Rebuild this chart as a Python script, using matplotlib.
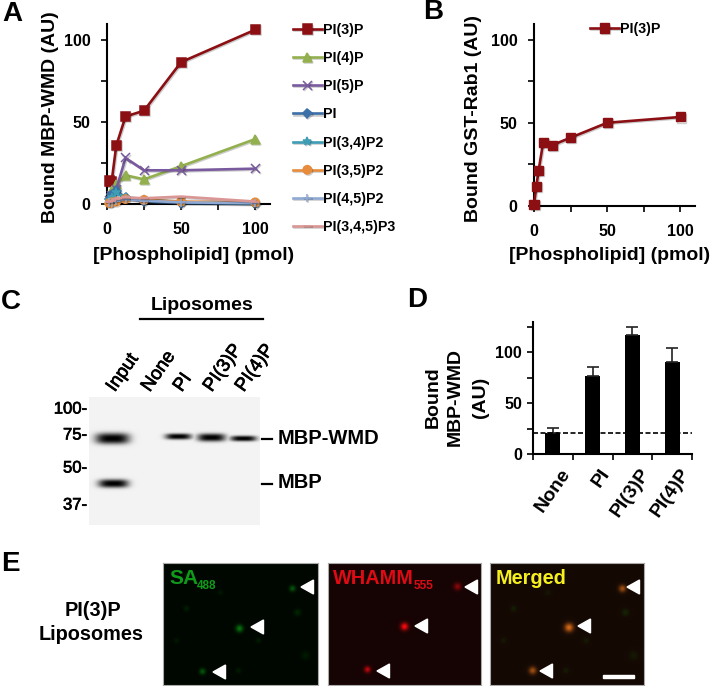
import numpy as np
import matplotlib
matplotlib.use('Agg')
import matplotlib.pyplot as plt
import matplotlib.patheffects as pe
from matplotlib.patches import Polygon, Rectangle
from matplotlib.transforms import ScaledTranslation

W, H = 713, 686
plt.rcParams['font.family'] = ['Liberation Sans', 'DejaVu Sans']
plt.rcParams['font.weight'] = 'bold'

# panel A
dose_a = [1.56, 3.12, 6.25, 12.5, 25, 50, 100]
pi3p_a = [14, 13.6, 35.5, 53.2, 56.8, 86.3, 106]
pi4p_a = [3, 8, 12, 17.5, 15, 23, 39.5]
pi5p_a = [2, 5, 9, 28, 20.5, 20.5, 21.5]
pi_a = [3, 6, 8, 4, 1.5, 0.5, 0]
pi34_a = [2, 4, 7, 4, 3, 1, 0.5]
pi35_a = [0.5, 1, 1.5, 3, 2.5, 1.5, 1]
pi45_a = [1, 1, 2, 3, 2, 1, 0.5]
pi345_a = [1, 2, 3, 4, 3.5, 4.5, 1.5]

series_a = [
    ('PI(3)P', pi3p_a, '#8c0f14', 's', 6.5),
    ('PI(4)P', pi4p_a, '#93b04e', '^', 6.5),
    ('PI(5)P', pi5p_a, '#7a5a9e', 'x', 6.5),
    ('PI', pi_a, '#3d6fa8', 'D', 4.5),
    ('PI(3,4)P2', pi34_a, '#3f9db5', '*', 6),
    ('PI(3,5)P2', pi35_a, '#e68c3c', 'o', 6),
    ('PI(4,5)P2', pi45_a, '#8fa9d3', '+', 6),
    ('PI(3,4,5)P3', pi345_a, '#d99694', '_', 6),
]

# panel B
dose_b = [0, 1.56, 3.12, 6.25, 12.5, 25, 50, 100]
pi3p_b = [0.5, 11.5, 21, 38, 36.5, 41, 50, 53.5]

# panel D
cats_d = ['None', 'PI', 'PI(3)P', 'PI(4)P']
vals_d = [21, 77, 117, 91]
errs_d = [5, 9, 8, 13]

# panel C blot: centre x, centre y, half width, half height, in image pixels
bands = [
    (112, 438, 17, 5.5), (113, 483, 15, 4.2),
    (178, 436, 13, 3.0), (211, 437, 14, 4.0), (243, 438, 13, 2.8),
]
mw_labels = [('100-', 409), ('75-', 435), ('50-', 468), ('37-', 505)]
lanes = [('Input', 111), ('None', 146), ('PI', 178), ('PI(3)P', 208), ('PI(4)P', 240)]

# panel E: x, y, size, strength of the spots in page pixels
bright_1 = [(292, 588, 2.2, .4), (239, 628, 2.6, .55), (202, 671, 2.2, .4)]
bright_2 = [(457, 586, 2.5, .45), (404, 626, 2.6, .9), (367, 669, 2.2, .65)]
bright_3 = [(621, 588, 2.5, .6), (568, 627, 3, .85), (532, 670, 2.6, .6)]
dim_1 = [(186, 608, 2, .12), (258, 640, 2, .1), (297, 612, 2.5, .15), (238, 670, 2, .1),
         (305, 655, 3, .1), (187, 575, 2, .15), (220, 592, 2, .08), (176, 640, 2, .08)]
arrows_1 = [(301, 587), (251, 627), (213, 672)]
arrows_2 = [(465, 587), (415, 626), (377, 671)]
arrows_3 = [(627, 587), (578, 626), (540, 671)]


def px_axes(fig, left, top, right, bottom):
    return fig.add_axes([left / W, 1 - bottom / H, (right - left) / W, (bottom - top) / H])


def txt(fig, x, y, s, **kw):
    kw.setdefault('ha', 'center')
    kw.setdefault('va', 'center')
    return fig.text(x / W, 1 - y / H, s, **kw)


def style_axes(ax, size=11.5):
    ax.spines['top'].set_visible(False)
    ax.spines['right'].set_visible(False)
    ax.spines['left'].set_linewidth(1.5)
    ax.spines['bottom'].set_linewidth(1.5)
    ax.tick_params(width=1.2, length=4, labelsize=size)
    ax.patch.set_alpha(0)


def curve_axes(ax):
    style_axes(ax)
    ax.set_xlim(0, 110)
    ax.set_xticks([0, 25, 50, 75, 100], ['0', '', '50', '', '100'])
    ax.set_yticks([0, 25, 50, 75, 100], ['0', '', '50', '', '100'])
    ax.tick_params(axis='x', pad=9)
    ax.tick_params(axis='y', pad=8)


shadow = [pe.SimpleLineShadow(offset=(0.8, -0.8), alpha=0.2, shadow_color='k'), pe.Normal()]
medium = [pe.withStroke(linewidth=0.5, foreground='k')]

fig = plt.figure(figsize=(W / 100, H / 100), dpi=100)

# A
ax = px_axes(fig, 107, 24, 270, 204)
curve_axes(ax)
ax.set_ylim(0, 109.5)
for name, vals, col, mk, ms in series_a:
    ax.plot(dose_a, vals, color=col, marker=mk, ms=ms, lw=1.9, mew=1.1, label=name,
            clip_on=False, path_effects=shadow, zorder=3)
ax.legend(loc='upper left', bbox_to_anchor=(293 / W, 1 - 23 / H), bbox_transform=fig.transFigure,
          frameon=False, fontsize=10.3, labelspacing=0.99, handlelength=2.0, handletextpad=0.1,
          borderpad=0, borderaxespad=0)
txt(fig, 51, 117, 'Bound MBP-WMD (AU)', rotation=90, fontsize=14)
txt(fig, 194, 255, '[Phospholipid] (pmol)', fontsize=14)
txt(fig, 12, 14, 'A', fontsize=20)

# B
ax = px_axes(fig, 534, 24, 695, 205.5)
curve_axes(ax)
ax.set_ylim(0, 109.7)
ax.plot(dose_b, pi3p_b, color='#8c0f14', marker='s', ms=6.5, lw=1.9, label='PI(3)P',
        clip_on=False, path_effects=shadow, zorder=3)
ax.legend(loc='upper left', bbox_to_anchor=(590 / W, 1 - 22 / H), bbox_transform=fig.transFigure,
          frameon=False, fontsize=10.3, handlelength=2.0, handletextpad=0.1, borderpad=0, borderaxespad=0)
txt(fig, 473, 118, 'Bound GST-Rab1 (AU)', rotation=90, fontsize=14)
txt(fig, 610, 255, '[Phospholipid] (pmol)', fontsize=14)
txt(fig, 433, 12, 'B', fontsize=20)

# C
ax = px_axes(fig, 89, 397, 260, 525)
yy, xx = np.mgrid[397:525, 89:260]
gel = np.zeros(xx.shape)
for cx, cy, hw, hh in bands:
    gel = np.maximum(gel, np.exp(-(np.abs((xx - cx) / hw) ** 3.5 + np.abs((yy - cy) / hh) ** 2.5)))
ax.imshow(0.95 - 0.95 * gel, cmap='gray', vmin=0, vmax=1, aspect='auto', extent=(89, 260, 525, 397))
ax.axis('off')
fig.add_artist(plt.Line2D([140 / W, 263 / W], [1 - 319 / H] * 2, color='k', lw=1.6))
txt(fig, 202, 305, 'Liposomes', fontsize=14)
for name, x in lanes:
    fig.text(x / W, 1 - 390 / H, name, rotation=55, rotation_mode='anchor', ha='left', va='center',
             fontsize=13.5, fontweight='normal', path_effects=medium)
for name, y in mw_labels:
    txt(fig, 87, y, name, ha='right', fontsize=12, fontweight='normal', path_effects=medium)
fig.add_artist(plt.Line2D([262 / W, 272 / W], [1 - 439 / H] * 2, color='k', lw=1.6))
fig.add_artist(plt.Line2D([262 / W, 272 / W], [1 - 484 / H] * 2, color='k', lw=1.6))
txt(fig, 278, 438, 'MBP-WMD', ha='left', fontsize=14.5)
txt(fig, 278, 483, 'MBP', ha='left', fontsize=14.5)
txt(fig, 11, 302, 'C', fontsize=20)

# D
ax = px_axes(fig, 533, 322, 692, 454)
style_axes(ax)
pos = np.arange(len(cats_d)) + 0.5
ax.bar(pos, vals_d, width=0.38, color='k', zorder=2,
       yerr=[[0] * 4, errs_d], error_kw=dict(ecolor='#222222', elinewidth=1.2, capsize=4, capthick=1.2))
ax.axhline(vals_d[0], color='k', ls='--', lw=1.2, dashes=(3, 1.5), zorder=3)
ax.set_xlim(0, 4)
ax.set_ylim(0, 130)
ax.set_yticks([0, 25, 50, 75, 100, 125], ['0', '', '50', '', '100', ''])
ax.set_xticks(np.arange(5), [''] * 5)
ax.set_xticks(pos, cats_d, minor=True, rotation=55, ha='right', rotation_mode='anchor', fontsize=14)
ax.tick_params(axis='x', which='minor', length=0, pad=8)
ax.tick_params(axis='y', pad=4)
for lbl in ax.get_xticklabels(minor=True):
    lbl.set_transform(lbl.get_transform() + ScaledTranslation(5 / 72, 0, fig.dpi_scale_trans))
txt(fig, 433, 397, 'Bound', rotation=90, fontsize=14)
txt(fig, 455, 397, 'MBP-WMD', rotation=90, fontsize=14)
txt(fig, 481, 397, '(AU)', rotation=90, fontsize=14)
txt(fig, 417, 300, 'D', fontsize=20)


# E
def spot_image(left, right, base, layers):
    yy, xx = np.mgrid[563:685, left:right]
    img = np.ones(xx.shape + (3,)) * np.array(base)
    for spots, col in layers:
        for sx, sy, sz, amp in spots:
            g = amp * np.exp(-((xx - sx) ** 2 + (yy - sy) ** 2) / (2 * sz ** 2))
            img = img + g[..., None] * np.array(col)
    return np.clip(img, 0, 1)


def shift(spots, dx):
    return [(s[0] + dx, s[1], s[2], s[3]) for s in spots]


panels = [
    (163, 318, (0.0, 0.025, 0.0), [(bright_1, (0.05, 0.75, 0.1)), (dim_1, (0, 0.8, 0))], arrows_1),
    (328, 481, (0.09, 0.015, 0.015), [(bright_2, (1.0, 0.02, 0.05))], arrows_2),
    (490, 644, (0.08, 0.035, 0.015), [(bright_3, (0.9, 0.45, 0.08)), (shift(dim_1, 327), (0, 0.7, 0))], arrows_3),
]
for left, right, base, layers, arrows in panels:
    ax = px_axes(fig, left, 563, right, 685)
    ax.imshow(spot_image(left, right, base, layers), aspect='auto', extent=(left, right, 685, 563))
    for x, y in arrows:
        ax.add_patch(Polygon([(x, y), (x + 12.5, y - 7), (x + 12.5, y + 7)], color='w'))
    ax.set_xlim(left, right)
    ax.set_ylim(685, 563)
    ax.set_xticks([])
    ax.set_yticks([])
    for s in ax.spines.values():
        s.set_color('#aaaaaa')
        s.set_linewidth(0.8)
    if left == 490:
        ax.add_patch(Rectangle((603, 675), 31, 2.5, color='w'))

txt(fig, 169, 578, 'SA', ha='left', color='#0f9a1a', fontsize=15)
txt(fig, 197, 586, '488', ha='left', color='#0f9a1a', fontsize=8.5)
txt(fig, 333, 578, 'WHAMM', ha='left', color='#e00a14', fontsize=14.3)
txt(fig, 414, 586, '555', ha='left', color='#e00a14', fontsize=8.5)
txt(fig, 496, 578, 'Merged', ha='left', color='#f5f01e', fontsize=14.3)
txt(fig, 93, 611, 'PI(3)P', fontsize=14.3)
txt(fig, 91, 635, 'Liposomes', fontsize=14.3)
txt(fig, 10, 564, 'E', fontsize=20)

fig.savefig('out.png', dpi=100)
